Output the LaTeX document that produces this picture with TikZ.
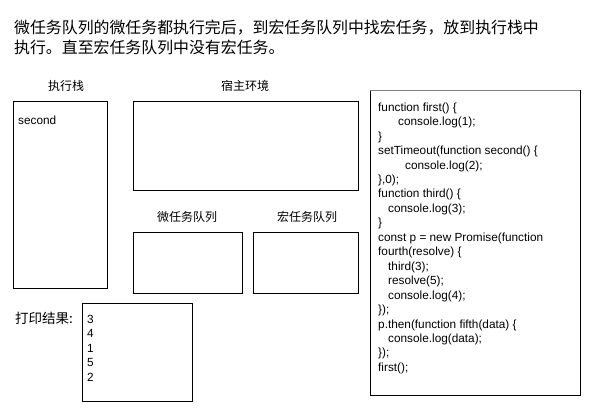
\documentclass[tikz,border=0pt]{standalone}
\usepackage{fontspec}
\setmainfont{Liberation Sans}
\newfontfamily\cjk{Noto Sans CJK SC}
\begin{document}
\begin{tikzpicture}[x=1pt,y=-1pt,
  panel/.style={draw=black,line width=0.9pt},
  lbl/.style={font=\cjk\fontsize{12}{14}\selectfont,inner sep=0pt},
  codetxt/.style={font=\fontsize{11.8}{14.45}\selectfont,inner sep=0pt,align=left,anchor=north west}]
\useasboundingbox (0,0) rectangle (595,415);
% title
\node[font=\cjk\fontsize{15.9}{19}\selectfont,inner sep=0pt,anchor=base west] (t1) at (14,34) {微任务队列的微任务都执行完后，到宏任务队列中找宏任务，放到执行栈中};
\node[font=\cjk\fontsize{15.9}{19}\selectfont,inner sep=0pt,anchor=base west] (t2) at (14,53) {执行。直至宏任务队列中没有宏任务。};
% execution stack
\node[lbl] (lstack) at (66,86) {执行栈};
\draw[panel] (13,101) rectangle (107,288);
\node[codetxt,anchor=base west] (sec) at (18,124) {second};
% host environment
\node[lbl] (lhost) at (245,86) {宿主环境};
\draw[panel] (133,101) rectangle (358,190);
% queues
\node[lbl] (lmicro) at (187,217) {微任务队列};
\draw[panel] (133,232) rectangle (242,293);
\node[lbl] (lmacro) at (307,217) {宏任务队列};
\draw[panel] (253,232) rectangle (358,293);
% print result
\node[font=\cjk\fontsize{13.5}{16}\selectfont,inner sep=0pt] (lprint) at (44,318) {打印结果:};
\draw[panel] (82,303) rectangle (192,401);
\node[codetxt] (res) at (87,315) {3\\4\\1\\5\\2};
% code
\draw[panel] (370,90) rectangle (580,395);
\draw[gray,line width=1.6pt] (370,90.5) -- (580,90.5);
\node[codetxt] (code) at (378,102.5) {function first() \{\\
\hspace*{20pt}console.log(1);\\
\}\\
setTimeout(function second() \{\\
\hspace*{27pt}console.log(2);\\
\},0);\\
function third() \{\\
\hspace*{10pt}console.log(3);\\
\}\\
const p = new Promise(function\\
fourth(resolve) \{\\
\hspace*{10pt}third(3);\\
\hspace*{10pt}resolve(5);\\
\hspace*{10pt}console.log(4);\\
\});\\
p.then(function fifth(data) \{\\
\hspace*{10pt}console.log(data);\\
\});\\
first();};
\end{tikzpicture}
\end{document}
